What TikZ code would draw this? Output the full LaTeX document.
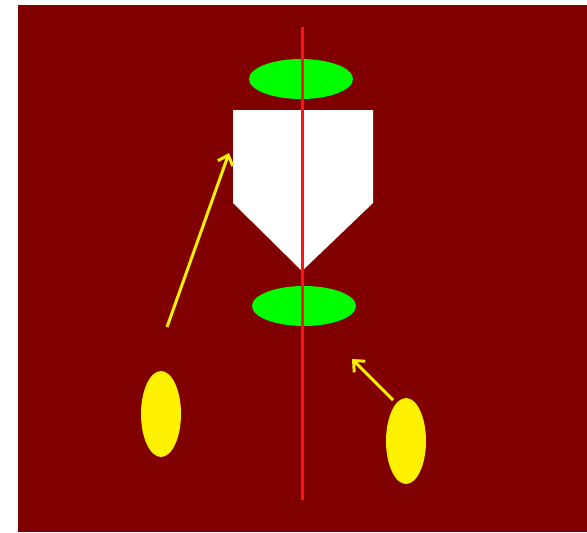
\documentclass[tikz,border=0pt]{standalone}
\usetikzlibrary{shapes.geometric,arrows.meta}
\definecolor{maroonbg}{RGB}{128,0,0}
\definecolor{lensgreen}{RGB}{0,255,0}
\definecolor{axisred}{RGB}{255,20,20}
\tikzset{
  lens/.style={ellipse, fill=lensgreen, inner sep=0pt, minimum width=2.08cm, minimum height=0.8cm},
  spot/.style={ellipse, fill=yellow, inner sep=0pt, minimum width=0.8cm, minimum height=1.72cm},
  ray/.style={yellow, line width=1.7pt, -{Straight Barb[length=5pt,width=9pt,line width=1.7pt]}}
}
\begin{document}
\begin{tikzpicture}[x=0.02cm, y=-0.02cm]
  \useasboundingbox (0,0) rectangle (587,532);
  \fill[maroonbg] (18,5) rectangle (587,532);

  \coordinate (AxisTop) at (302, 27);
  \coordinate (AxisBot) at (302, 500);
  \coordinate (TL) at (233, 110);
  \coordinate (TR) at (373, 110);
  \coordinate (BR) at (373, 203);
  \coordinate (Tip) at (302, 271);
  \coordinate (BL) at (233, 203);

  \fill[white] (TL) -- (TR) -- (BR) -- (Tip) -- (BL) -- cycle;

  \node[lens] (upper) at (301, 79) {};
  \node[lens] (lower) at (304, 306) {};

  \draw[axisred, line width=1.7pt] (AxisTop) -- (AxisBot);

  \node[spot] (left) at (161, 414) {};
  \node[spot] (right) at (406, 441) {};

  \coordinate (L0) at (167, 327);
  \coordinate (L1) at (229, 153);
  \coordinate (R0) at (393, 400);
  \coordinate (R1) at (352, 359);
  \draw[ray] (L0) -- (L1);
  \draw[ray] (R0) -- (R1);
\end{tikzpicture}
\end{document}
